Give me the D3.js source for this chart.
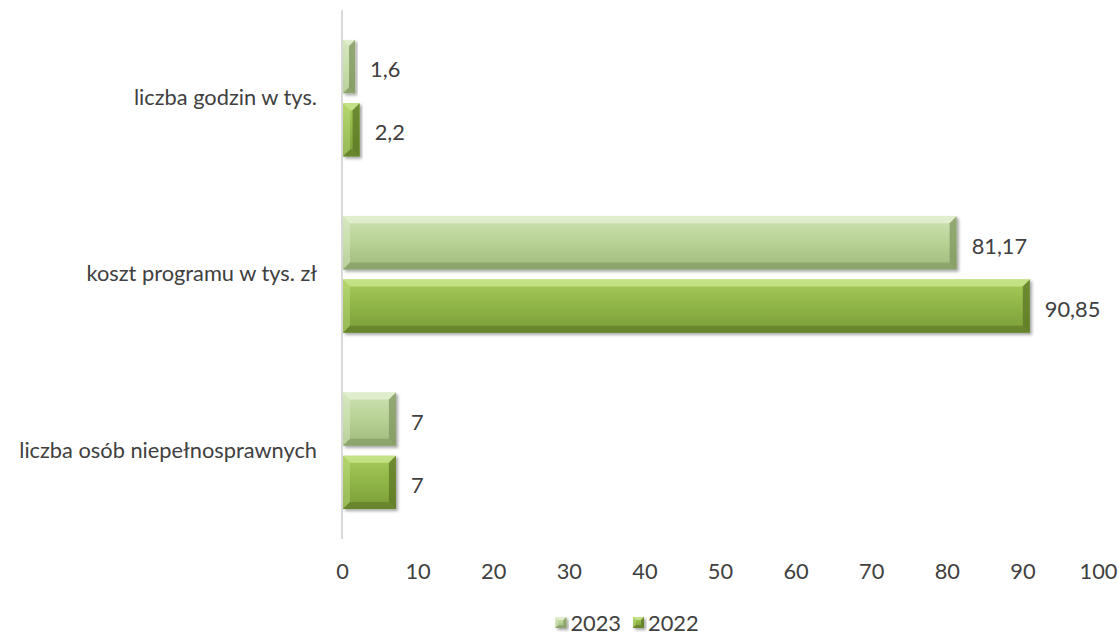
<!DOCTYPE html>
<html><head><meta charset="utf-8">
<script src="https://cdn.jsdelivr.net/npm/d3@7"></script>
<style>body{margin:0;background:#fff}svg{display:block}text{font-family:Lato,"Open Sans",sans-serif;fill:#404040}</style>
</head><body>
<svg id="c" width="1119" height="635"></svg>
<script>
const categories = ["liczba godzin w tys.", "koszt programu w tys. zł", "liczba osób niepełnosprawnych"];
const seriesNames = ["2023", "2022"];
const values2023 = [1.6, 81.17, 7];
const values2022 = [2.2, 90.85, 7];
const valueLabels2023 = ["1,6", "81,17", "7"];
const valueLabels2022 = ["2,2", "90,85", "7"];
const xTicks = [0,10,20,30,40,50,60,70,80,90,100];

const FS = 21.8;
const svg = d3.select("#c");
const x = d3.scaleLinear().domain([0,100]).range([342,1098]);
const y = d3.scaleBand().domain(categories).range([10,539]).paddingInner(0.339).paddingOuter(0.17);
const ySub = d3.scaleBand().domain(seriesNames).range([0,y.bandwidth()]).paddingInner(0.158);

const defs = svg.append("defs");
const pal = {
  "2023": {top:"#cfe2b4", mid:"#b8d295", bot:"#9fb97c", hi:"#e3efd2", dk:"#7f9660"},
  "2022": {top:"#a8cc5c", mid:"#8fb546", bot:"#7a9c37", hi:"#c6e38a", dk:"#5b7526"}
};
seriesNames.forEach(s => {
  const g = defs.append("linearGradient").attr("id","g"+s).attr("x1",0).attr("y1",0).attr("x2",0).attr("y2",1);
  g.append("stop").attr("offset","0%").attr("stop-color",pal[s].top);
  g.append("stop").attr("offset","50%").attr("stop-color",pal[s].mid);
  g.append("stop").attr("offset","100%").attr("stop-color",pal[s].bot);
});
const f = defs.append("filter").attr("id","sh").attr("x","-10%").attr("y","-10%").attr("width","130%").attr("height","140%");
f.append("feDropShadow").attr("dx",2).attr("dy",2).attr("stdDeviation",1.5).attr("flood-color","#000").attr("flood-opacity",0.35);

// axis line
svg.append("line").attr("x1",x(0)).attr("x2",x(0)).attr("y1",10).attr("y2",539).attr("stroke","#d9d9d9").attr("stroke-width",2);

// x tick labels
const xa = svg.append("g").attr("transform","translate(0,571)").call(d3.axisBottom(x).tickValues(xTicks).tickSize(0).tickPadding(0));
xa.select(".domain").remove();
xa.selectAll("text").attr("font-size",FS).attr("dy","0.35em").style("font-family","Lato,'Open Sans',sans-serif").attr("fill","#595959");

// category labels
const ya = svg.append("g").attr("transform","translate(317,0)").call(d3.axisLeft(y).tickSize(0).tickPadding(0));
ya.select(".domain").remove();
ya.selectAll("text").attr("font-size",FS).style("font-family","Lato,'Open Sans',sans-serif").attr("fill","#404040");

function drawBar(g, x0, y0, w, h, s, bev) {
  const b = Math.min(bev || 7, w/2, h/2);
  const bg = g.append("g").attr("filter","url(#sh)");
  bg.append("rect").attr("x",x0).attr("y",y0).attr("width",w).attr("height",h).attr("fill","url(#g"+s+")");
  const p = (pts, c, o) => bg.append("polygon").attr("points",pts.map(d=>d.join(",")).join(" ")).attr("fill",c).attr("opacity",o);
  const x1=x0+w, y1=y0+h;
  p([[x0,y0],[x1,y0],[x1-b,y0+b],[x0+b,y0+b]], pal[s].hi, 0.9);
  p([[x0,y0],[x0+b,y0+b],[x0+b,y1-b],[x0,y1]], pal[s].hi, 0.4);
  p([[x1,y0],[x1,y1],[x1-b,y1-b],[x1-b,y0+b]], pal[s].dk, 0.75);
  p([[x0,y1],[x1,y1],[x1-b,y1-b],[x0+b,y1-b]], pal[s].dk, 0.6);
}

const series = [["2023", values2023, valueLabels2023], ["2022", values2022, valueLabels2022]];
const gb = svg.append("g");
series.forEach(([s, vals, labs]) => {
  categories.forEach((c, i) => {
    const y0 = y(c) + ySub(s);
    const w = x(vals[i]) - x(0);
    drawBar(gb, x(0)+1, y0, w, ySub.bandwidth(), s);
    svg.append("text").attr("x", x(vals[i]) + 16).attr("y", y0 + ySub.bandwidth()/2 + 3).attr("dy","0.35em")
      .attr("font-size",FS).attr("fill","#404040").text(labs[i]);
  });
});

// legend (laid out from measured text widths, centred)
const lg = svg.append("g");
const items = seriesNames.map(s => {
  const g = lg.append("g");
  const t = g.append("text").attr("x", 15).attr("y", 623).attr("dy","0.35em").attr("font-size",FS).attr("fill","#595959").text(s);
  return {s, g, w: 15 + t.node().getComputedTextLength()};
});
const gap = 12;
const total = d3.sum(items, d => d.w) + gap * (items.length - 1);
let cx = 627 - total / 2;
items.forEach(it => {
  it.g.attr("transform", `translate(${cx},0)`);
  drawBar(it.g, 0, 617, 11, 11, it.s, 3);
  it.g.select("text").raise();
  cx += it.w + gap;
});
</script>
</body></html>
